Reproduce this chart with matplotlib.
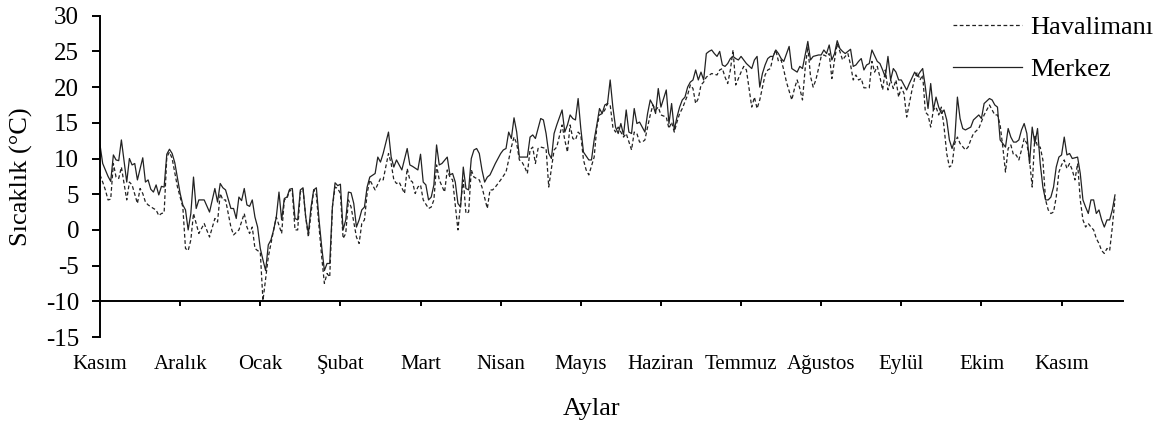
import matplotlib
matplotlib.use("Agg")
import matplotlib.pyplot as plt

plt.rcParams['font.family'] = ['Liberation Serif', 'DejaVu Serif']
plt.rcParams['axes.unicode_minus'] = False

# ay etiketleri (her 30 gunde bir)
aylar = ["Kasım", "Aralık", "Ocak", "Şubat", "Mart", "Nisan", "Mayıs",
         "Haziran", "Temmuz", "Ağustos", "Eylül", "Ekim", "Kasım"]
ay_gunleri = [0, 30, 60, 90, 120, 150, 180, 210, 240, 270, 300, 330, 360]

# Merkez istasyonu: gun, sicaklik
merkez_gun = [
    0, 1, 3, 4, 5, 6, 7, 8, 10, 11, 12, 13, 14, 16, 17, 18, 19, 20, 21, 22,
    23, 24, 25, 26, 27, 28, 30, 31, 32, 33, 34, 35, 36, 37, 39, 41, 43, 44, 45, 46,
    47, 49, 50, 51, 52, 53, 54, 55, 56, 57, 58, 59, 60, 61, 62, 63, 64, 65, 66, 67,
    68, 69, 70, 71, 72, 73, 74, 75, 76, 77, 78, 79, 80, 81, 82, 83, 84, 85, 86, 87,
    88, 89, 90, 91, 92, 93, 94, 95, 96, 97, 98, 99, 100, 101, 103, 104, 105, 106, 108, 109,
    110, 111, 113, 115, 116, 117, 119, 120, 121, 122, 123, 124, 125, 126, 127, 128, 130, 131, 132, 133,
    134, 135, 136, 137, 138, 139, 140, 141, 142, 143, 144, 145, 146, 148, 150, 151, 152, 153, 154, 155,
    156, 157, 159, 160, 161, 162, 163, 164, 165, 166, 167, 168, 169, 170, 171, 173, 174, 175, 176, 177,
    178, 179, 180, 181, 183, 184, 185, 186, 187, 188, 189, 190, 191, 192, 193, 194, 195, 196, 197, 198,
    199, 200, 201, 202, 203, 204, 205, 206, 207, 208, 209, 210, 211, 212, 213, 214, 215, 216, 217, 218,
    219, 220, 221, 222, 223, 224, 225, 226, 227, 228, 229, 230, 231, 232, 233, 234, 235, 236, 237, 238,
    239, 240, 241, 242, 244, 245, 246, 247, 248, 249, 250, 251, 252, 253, 254, 255, 256, 258, 259, 261,
    262, 263, 265, 266, 267, 269, 270, 271, 272, 273, 274, 275, 276, 277, 278, 279, 281, 282, 283, 284,
    285, 286, 287, 288, 289, 291, 292, 293, 294, 295, 296, 297, 298, 299, 300, 302, 303, 305, 306, 307,
    308, 309, 310, 311, 312, 313, 314, 315, 316, 317, 318, 319, 320, 321, 322, 323, 324, 326, 327, 329,
    330, 331, 333, 334, 335, 336, 337, 338, 339, 340, 341, 342, 343, 344, 345, 346, 347, 348, 349, 350,
    351, 352, 353, 354, 355, 356, 357, 358, 359, 360, 361, 362, 363, 364, 366, 367, 368, 369, 370, 371,
    372, 373, 374, 375, 376, 377, 378, 379, 380]
merkez_sicaklik = [
    11.9, 9.3, 7.5, 6.8, 10.5, 9.8, 9.7, 12.6, 6.7, 10.0, 9.1, 9.3, 7.0, 10.1, 6.7, 7.0, 5.7, 5.3, 6.3, 4.9,
    6.1, 6.0, 10.6, 11.3, 10.7, 9.4, 5.1, 3.5, 2.8, 0.0, 2.3, 7.4, 3.0, 4.2, 4.2, 2.5, 5.8, 3.9, 6.5, 5.9,
    5.6, 3.0, 3.0, 1.6, 4.6, 4.1, 5.8, 3.5, 3.3, 4.2, 1.8, 0.4, -2.6, -4.2, -5.7, -2.1, -1.4, 0.0, 1.8, 5.3,
    1.4, 4.4, 4.6, 5.7, 5.8, 1.6, 1.4, 5.6, 5.9, 1.8, -0.5, 3.2, 5.6, 5.9, 1.4, -2.4, -5.7, -4.7, -4.7, 3.2,
    6.6, 6.2, 6.4, 0.0, 1.4, 5.3, 5.2, 3.7, 0.4, 1.4, 2.8, 3.2, 6.0, 7.4, 7.9, 10.2, 9.5, 10.7, 13.7, 10.2,
    8.8, 9.8, 8.4, 11.4, 9.1, 8.9, 8.4, 10.6, 6.7, 6.3, 4.2, 4.6, 6.3, 11.9, 9.1, 9.3, 10.2, 7.7, 7.9, 6.7,
    3.7, 3.2, 8.8, 5.8, 5.6, 10.0, 11.2, 11.4, 10.7, 8.4, 6.7, 7.4, 7.7, 9.3, 10.7, 11.2, 11.4, 13.7, 12.8, 15.7,
    13.7, 10.2, 10.2, 10.2, 13.0, 13.3, 12.8, 14.2, 15.6, 15.4, 13.5, 10.7, 10.0, 13.5, 14.7, 16.8, 13.7, 14.7, 16.1, 15.6,
    15.4, 18.4, 14.2, 10.9, 9.8, 9.8, 12.6, 14.7, 17.0, 16.3, 17.5, 17.7, 21.0, 17.2, 14.4, 13.5, 14.9, 13.3, 16.8, 13.7,
    13.5, 17.0, 14.9, 15.1, 14.4, 13.7, 16.3, 18.2, 17.5, 16.3, 19.8, 17.2, 18.4, 19.6, 14.9, 17.7, 14.0, 15.8, 17.2, 18.2,
    18.6, 20.0, 20.7, 21.0, 22.4, 21.0, 22.1, 21.0, 24.7, 25.0, 25.2, 24.7, 24.3, 25.0, 23.1, 22.9, 23.3, 24.0, 24.3, 24.0,
    23.8, 24.3, 23.8, 23.3, 22.6, 23.8, 24.3, 20.0, 21.9, 23.1, 24.0, 24.3, 24.3, 25.2, 24.7, 24.0, 23.6, 25.7, 22.6, 22.1,
    22.9, 22.6, 26.4, 23.8, 24.3, 24.5, 24.5, 25.2, 24.7, 25.9, 23.8, 24.7, 26.5, 25.4, 25.0, 24.7, 25.3, 22.9, 23.1, 23.6,
    24.0, 22.4, 23.1, 23.3, 25.2, 23.6, 23.3, 22.4, 21.4, 24.3, 21.0, 22.6, 22.1, 21.0, 21.0, 19.6, 20.5, 22.1, 21.5, 22.1,
    22.6, 20.0, 17.0, 20.5, 16.8, 18.6, 17.2, 16.3, 16.8, 15.4, 12.6, 11.4, 12.6, 18.6, 15.6, 14.2, 14.0, 14.4, 15.4, 16.1,
    15.6, 17.7, 18.4, 18.2, 17.5, 17.2, 12.6, 12.1, 11.6, 14.2, 13.0, 12.3, 12.3, 12.6, 14.0, 14.9, 13.5, 9.3, 14.4, 12.1,
    14.2, 9.3, 6.0, 4.2, 4.2, 4.6, 6.0, 8.8, 10.2, 10.5, 13.0, 10.5, 10.7, 10.0, 10.2, 7.9, 4.2, 3.2, 2.3, 4.2,
    4.2, 2.3, 2.8, 1.4, 0.4, 1.4, 1.4, 2.8, 4.9]

# Havalimani istasyonu: gun, sicaklik
havalimani_gun = [
    0, 1, 2, 3, 4, 5, 6, 7, 8, 10, 11, 12, 14, 15, 16, 17, 18, 20, 21, 22,
    23, 24, 25, 26, 27, 29, 31, 32, 33, 34, 35, 37, 39, 41, 43, 44, 45, 46, 47, 49,
    50, 52, 54, 55, 56, 57, 58, 59, 60, 61, 63, 64, 65, 66, 68, 69, 70, 71, 72, 73,
    74, 75, 76, 77, 78, 79, 80, 81, 82, 83, 84, 85, 86, 87, 88, 89, 90, 91, 92, 93,
    94, 96, 97, 98, 99, 100, 101, 103, 105, 106, 108, 109, 110, 111, 112, 114, 115, 116, 117, 118,
    119, 120, 121, 123, 124, 125, 126, 127, 129, 130, 131, 132, 134, 135, 136, 137, 138, 139, 140, 142,
    143, 145, 146, 147, 148, 150, 152, 153, 154, 155, 156, 157, 158, 159, 160, 161, 162, 163, 164, 165,
    167, 168, 169, 170, 171, 173, 174, 175, 176, 177, 178, 179, 180, 181, 182, 183, 185, 186, 187, 188,
    189, 190, 191, 192, 193, 194, 196, 197, 199, 200, 201, 202, 203, 204, 205, 206, 207, 208, 209, 210,
    212, 213, 214, 215, 216, 217, 218, 220, 221, 222, 223, 224, 225, 226, 227, 229, 231, 232, 233, 234,
    235, 236, 237, 238, 239, 240, 241, 242, 244, 245, 246, 247, 249, 250, 251, 252, 253, 254, 255, 256,
    257, 259, 260, 261, 262, 263, 264, 265, 266, 267, 268, 269, 270, 271, 272, 273, 274, 275, 276, 277,
    278, 279, 280, 281, 282, 283, 284, 285, 286, 288, 289, 290, 291, 292, 293, 294, 295, 296, 297, 298,
    299, 300, 301, 302, 303, 304, 305, 306, 307, 308, 309, 310, 311, 312, 313, 314, 315, 316, 317, 318,
    319, 320, 321, 322, 324, 325, 326, 327, 329, 331, 332, 333, 334, 335, 336, 337, 338, 339, 340, 341,
    342, 343, 344, 345, 346, 347, 348, 349, 350, 351, 352, 353, 354, 355, 356, 357, 358, 359, 360, 361,
    362, 363, 364, 365, 366, 367, 368, 369, 370, 371, 372, 373, 374, 375, 376, 377, 378, 379, 380]
havalimani_sicaklik = [
    7.7, 6.7, 5.6, 4.2, 4.3, 9.3, 7.4, 7.2, 8.8, 4.2, 6.7, 6.3, 3.7, 5.8, 5.1, 3.9, 3.5, 3.0, 2.8, 2.0,
    2.3, 2.4, 10.2, 10.9, 10.0, 6.0, 3.2, -2.6, -2.9, -1.4, 2.3, -0.5, 0.9, -1.0, 1.6, 1.1, 5.1, 4.2, 4.2, 0.4,
    -0.7, 0.0, 2.3, 0.4, -0.5, 0.4, -2.6, -2.9, -3.1, -9.9, -3.8, -1.9, 0.0, 1.8, -0.5, 4.2, 4.4, 5.6, 5.3, 0.0,
    0.0, 5.3, 5.7, 1.8, -1.0, 2.3, 5.6, 4.9, 0.4, -3.8, -7.5, -6.1, -6.6, 3.2, 6.0, 5.8, 5.1, -1.2, -0.5, 4.2,
    3.2, -1.0, -1.9, 0.9, 1.4, 5.1, 7.0, 5.6, 7.2, 7.0, 10.7, 9.3, 7.0, 6.5, 6.7, 5.1, 8.6, 7.0, 6.7, 5.1,
    6.0, 6.3, 4.2, 3.0, 3.2, 4.2, 9.1, 7.0, 5.3, 8.4, 7.4, 7.0, 0.0, 3.7, 7.0, 2.3, 2.5, 8.4, 7.4, 7.0,
    6.0, 3.0, 5.6, 5.6, 6.0, 7.0, 8.1, 9.8, 11.6, 13.0, 12.1, 9.8, 9.5, 8.8, 7.9, 11.2, 11.6, 9.3, 11.4, 11.6,
    11.4, 6.0, 8.6, 11.2, 11.6, 14.7, 12.6, 10.9, 14.7, 12.8, 12.6, 13.7, 13.3, 9.8, 8.4, 7.7, 10.2, 14.4, 16.1, 16.3,
    16.8, 17.7, 17.5, 14.4, 13.7, 14.4, 13.0, 13.5, 11.2, 13.7, 13.5, 12.3, 12.3, 12.6, 14.4, 16.1, 17.5, 16.8, 17.2, 16.1,
    15.8, 14.2, 15.1, 13.7, 15.1, 16.3, 17.0, 18.9, 20.3, 19.8, 17.7, 18.4, 20.3, 20.7, 21.4, 21.9, 21.7, 22.4, 22.6, 21.4,
    20.5, 22.4, 25.2, 20.3, 21.2, 22.1, 22.9, 22.4, 17.2, 18.6, 17.0, 18.2, 21.7, 22.4, 22.6, 24.3, 25.2, 23.6, 23.8, 22.4,
    20.7, 18.2, 19.8, 21.0, 19.8, 18.2, 22.6, 25.7, 21.5, 20.0, 21.0, 22.6, 24.3, 24.5, 24.3, 24.7, 21.2, 23.8, 26.1, 25.0,
    23.8, 24.3, 24.7, 23.1, 21.0, 21.7, 21.0, 21.2, 19.9, 19.9, 23.6, 22.1, 22.9, 21.4, 19.6, 22.4, 19.6, 21.0, 19.8, 21.0,
    18.6, 20.0, 19.1, 15.8, 17.7, 19.6, 21.2, 22.1, 21.0, 21.7, 16.5, 16.1, 14.4, 16.8, 17.2, 16.1, 17.2, 14.4, 10.7, 8.8,
    9.1, 12.1, 13.0, 12.1, 11.2, 11.6, 12.6, 13.5, 14.2, 16.1, 16.8, 17.5, 16.8, 16.1, 16.1, 14.7, 11.6, 8.1, 11.4, 11.9,
    10.5, 10.5, 9.8, 11.2, 12.8, 12.1, 9.8, 6.0, 13.3, 11.6, 11.6, 9.8, 4.2, 2.8, 2.3, 2.5, 4.6, 8.1, 9.1, 9.8,
    8.6, 9.3, 8.4, 7.0, 9.3, 4.2, 1.4, 0.4, 0.9, 0.4, 0.0, -1.2, -1.9, -2.9, -3.3, -2.6, -2.9, 0.4, 4.4]

fig = plt.figure(figsize=(11.55, 4.21), dpi=100)
ax = fig.add_axes([0.0866, 0.1995, 0.8857, 0.7632])

ax.plot(havalimani_gun, havalimani_sicaklik, color='#222222', lw=0.9,
        linestyle=(0, (3, 2)), label='Havalimanı')
ax.plot(merkez_gun, merkez_sicaklik, color='#222222', lw=0.9, label='Merkez')

ax.set_xlim(0, 383)
ax.set_ylim(-15, 30)
ax.set_yticks(range(-15, 31, 5))
ax.set_xticks(ay_gunleri)
ax.set_xticklabels(aylar)

# yatay eksen -10 noktasinda kesisiyor (Excel tarzi)
ax.spines['bottom'].set_position(('data', -10))
ax.spines['top'].set_visible(False)
ax.spines['right'].set_visible(False)
for s in ['left', 'bottom']:
    ax.spines[s].set_linewidth(1.4)
    ax.spines[s].set_color('black')

ax.tick_params(axis='y', direction='out', length=6, width=1.4, pad=9, labelsize=18)
ax.tick_params(axis='x', direction='out', length=3.6, width=1.4, pad=35, labelsize=15)

ax.set_ylabel('Sıcaklık (°C)', fontsize=19)
ax.yaxis.set_label_coords(-0.066, 0.5)
ax.set_xlabel('Aylar', fontsize=19)
ax.xaxis.set_label_coords(0.48, -0.19)

ax.legend(loc='upper left', bbox_to_anchor=(0.834, 0.999), frameon=False,
          fontsize=19, handlelength=2.6, handletextpad=0.3, labelspacing=0.7,
          borderpad=0, borderaxespad=0)

fig.savefig('out.png', dpi=100)
